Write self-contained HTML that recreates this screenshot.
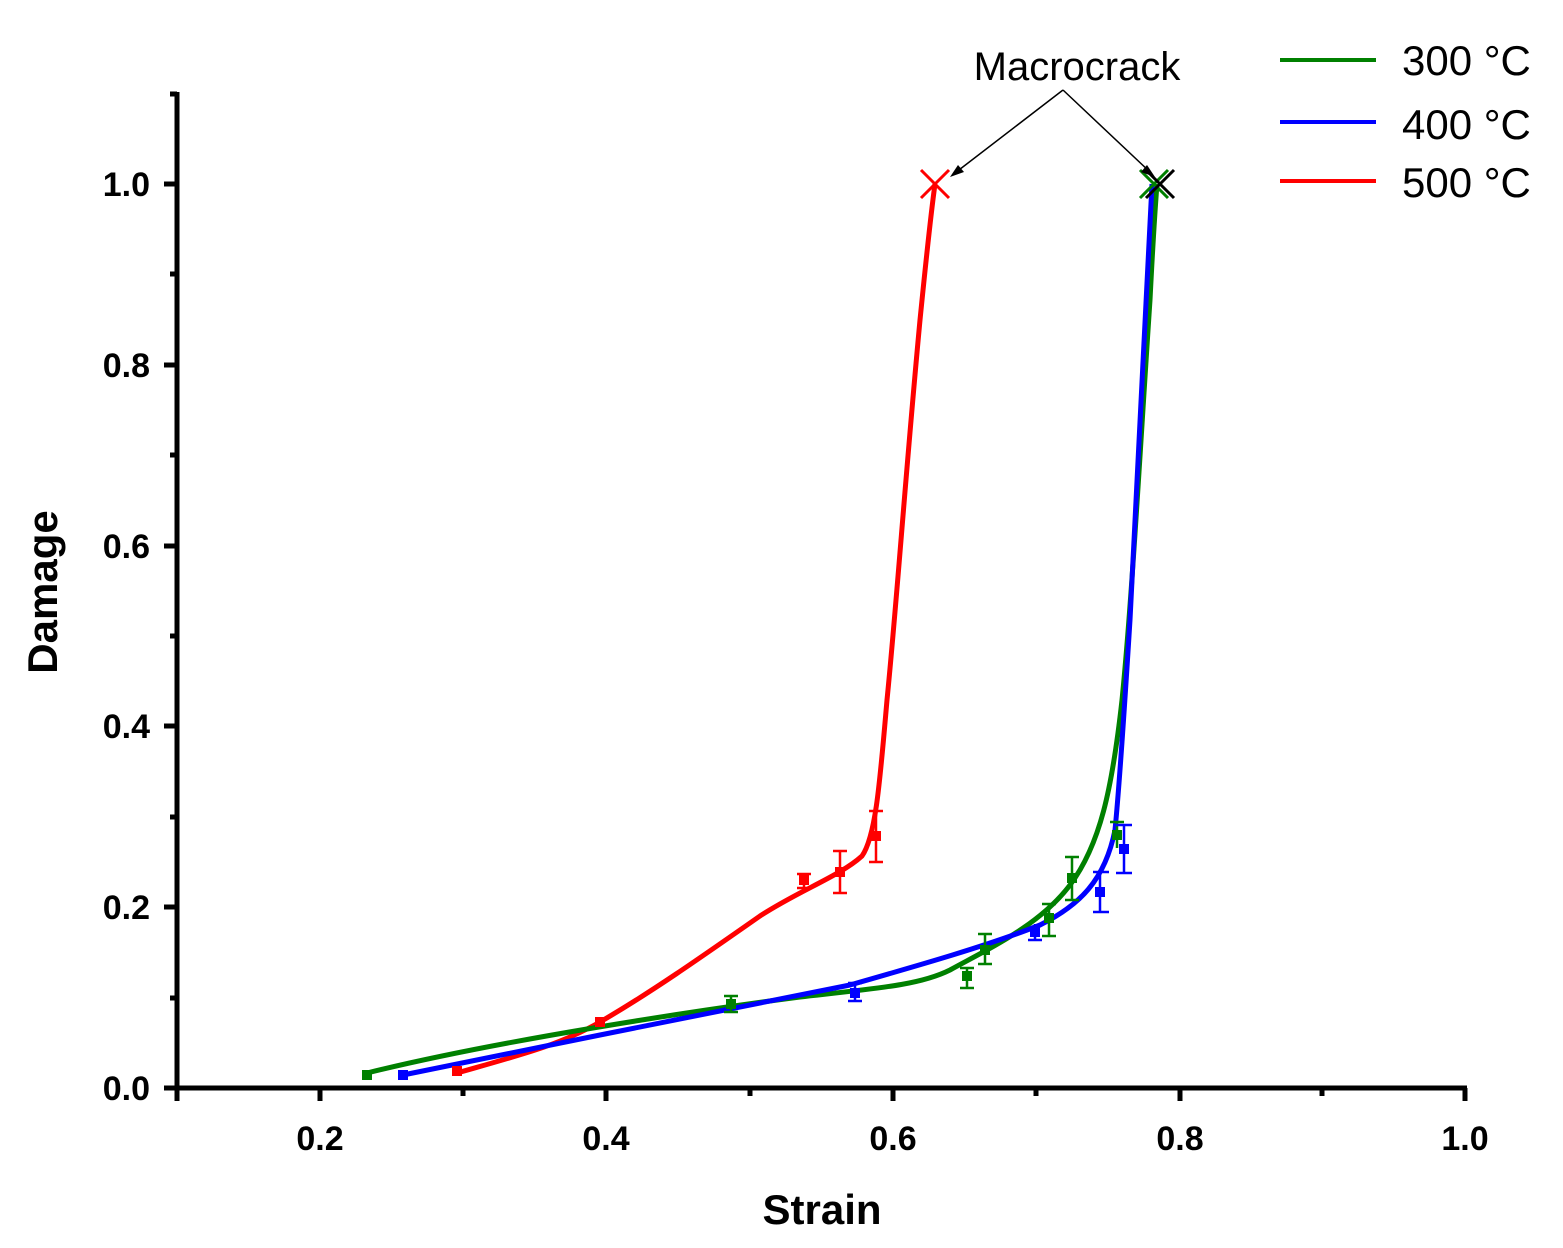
<!DOCTYPE html>
<html><head><style>body{margin:0;background:#fff}svg{display:block}text{font-family:"Liberation Sans",Arial,sans-serif}</style></head>
<body>
<svg width="1563" height="1248" viewBox="0 0 1563 1248" xmlns="http://www.w3.org/2000/svg">
<g stroke="#000" stroke-width="5" fill="none">
<line x1="177" y1="92" x2="177" y2="1090"/>
<line x1="175" y1="1088" x2="1467" y2="1088"/>
<line x1="320" y1="1088" x2="320" y2="1101"/><line x1="606" y1="1088" x2="606" y2="1101"/><line x1="893" y1="1088" x2="893" y2="1101"/><line x1="1180" y1="1088" x2="1180" y2="1101"/><line x1="1465" y1="1088" x2="1465" y2="1101"/>
<line x1="177" y1="1088" x2="177" y2="1101"/><line x1="463" y1="1088" x2="463" y2="1096"/><line x1="750" y1="1088" x2="750" y2="1096"/><line x1="1036" y1="1088" x2="1036" y2="1096"/><line x1="1322" y1="1088" x2="1322" y2="1096"/>
<line x1="164" y1="1088" x2="177" y2="1088"/><line x1="164" y1="907" x2="177" y2="907"/><line x1="164" y1="726" x2="177" y2="726"/><line x1="164" y1="546" x2="177" y2="546"/><line x1="164" y1="365" x2="177" y2="365"/><line x1="164" y1="184" x2="177" y2="184"/>
<line x1="170" y1="998" x2="177" y2="998"/><line x1="170" y1="817" x2="177" y2="817"/><line x1="170" y1="636" x2="177" y2="636"/><line x1="170" y1="455" x2="177" y2="455"/><line x1="170" y1="274" x2="177" y2="274"/><line x1="170" y1="94" x2="177" y2="94"/>
</g>
<g font-size="34" font-weight="bold" text-anchor="middle">
<text x="320" y="1150">0.2</text><text x="606" y="1150">0.4</text><text x="893" y="1150">0.6</text><text x="1180" y="1150">0.8</text><text x="1465" y="1150">1.0</text>
</g>
<g font-size="34" font-weight="bold" text-anchor="end">
<text x="150" y="1100">0.0</text><text x="150" y="919">0.2</text><text x="150" y="738">0.4</text><text x="150" y="558">0.6</text><text x="150" y="377">0.8</text><text x="150" y="196">1.0</text>
</g>
<text x="822" y="1224" font-size="42" font-weight="bold" text-anchor="middle">Strain</text>
<text transform="translate(57,592) rotate(-90)" font-size="42" font-weight="bold" text-anchor="middle">Damage</text>
<g fill="none" stroke-width="5" stroke-linejoin="round">
<path stroke="#ff0000" d="M457,1073 C520,1055 560,1045 600,1022 C650,993 700,958 760,916 C800,890 840,876 862,856 C876,836 880,780 887,700 C897,600 905,480 920,320 C926,260 930,220 935,184"/>
<path stroke="#008000" d="M367,1073 C500,1040 700,1010 800,997 C880,988 920,985 950,970 C990,948 1040,925 1070,885 C1100,845 1112,790 1122,700 C1132,600 1140,450 1150,300 C1153,240 1155,210 1157,184"/>
<path stroke="#0000ff" d="M403,1075 L600,1035 L850,985 C920,965 990,945 1040,925 C1080,905 1105,880 1115,830 C1120,780 1125,700 1130,620 C1138,450 1145,300 1152,184"/>
</g>
<g stroke-width="2.5" fill="none">
<g stroke="#008000"><path d="M731,996v16M724,996h14M724,1012h14M967,968v20M960,968h14M960,988h14M985,934v30M978,934h14M978,964h14M1049,904v32M1042,904h14M1042,936h14M1072,857v43M1065,857h14M1065,900h14M1117,822v26M1110,822h14"/></g>
<g stroke="#0000ff"><path d="M855,983v18M848,983h14M848,1001h14M1035,924v16M1028,940h14M1100,872v40M1093,872h16M1093,912h16M1124,825v48M1116,825h16M1116,873h16"/></g>
<g stroke="#ff0000"><path d="M804,874v14M797,874h14M797,888h14M840,851v42M833,851h14M833,893h14M876,811v51M869,811h14M869,862h14M600,1019v6"/></g>
</g>
<g fill="#008000"><rect x="362" y="1070" width="10" height="10"/><rect x="726" y="999" width="10" height="10"/><rect x="962" y="971" width="10" height="10"/><rect x="980" y="945" width="10" height="10"/><rect x="1044" y="913" width="10" height="10"/><rect x="1067" y="873" width="10" height="10"/><rect x="1112" y="830" width="10" height="10"/></g>
<g fill="#0000ff"><rect x="398" y="1070" width="10" height="10"/><rect x="850" y="988" width="10" height="10"/><rect x="1030" y="927" width="10" height="10"/><rect x="1095" y="887" width="10" height="10"/><rect x="1119" y="844" width="10" height="10"/></g>
<g fill="#ff0000"><rect x="452" y="1066" width="10" height="10"/><rect x="595" y="1017" width="10" height="10"/><rect x="799" y="875" width="10" height="10"/><rect x="835" y="867" width="10" height="10"/><rect x="871" y="831" width="10" height="10"/></g>
<g stroke-width="3"><path stroke="#ff0000" d="M921,170L949,198M949,170L921,198"/><path stroke="#008000" d="M1140,170L1168,198M1168,170L1140,198"/><path stroke="#000" d="M1146,170L1174,198M1174,170L1146,198"/></g>
<text x="1077" y="80" font-size="40" text-anchor="middle">Macrocrack</text>
<g stroke="#000" stroke-width="1.5" fill="none"><path d="M1063,90L955,173M1063,90L1151,173"/></g>
<path d="M950,177l14,-5l-6,-7z" fill="#000"/><path d="M1155,177l-14,-5l6,-7z" fill="#000"/>
<g stroke-width="4"><line x1="1280" y1="60" x2="1376" y2="60" stroke="#008000"/><line x1="1280" y1="122" x2="1376" y2="122" stroke="#0000ff"/><line x1="1280" y1="181" x2="1376" y2="181" stroke="#ff0000"/></g>
<g font-size="42"><text x="1402" y="75">300 °C</text><text x="1402" y="139">400 °C</text><text x="1402" y="197">500 °C</text></g>
</svg>
</body></html>
